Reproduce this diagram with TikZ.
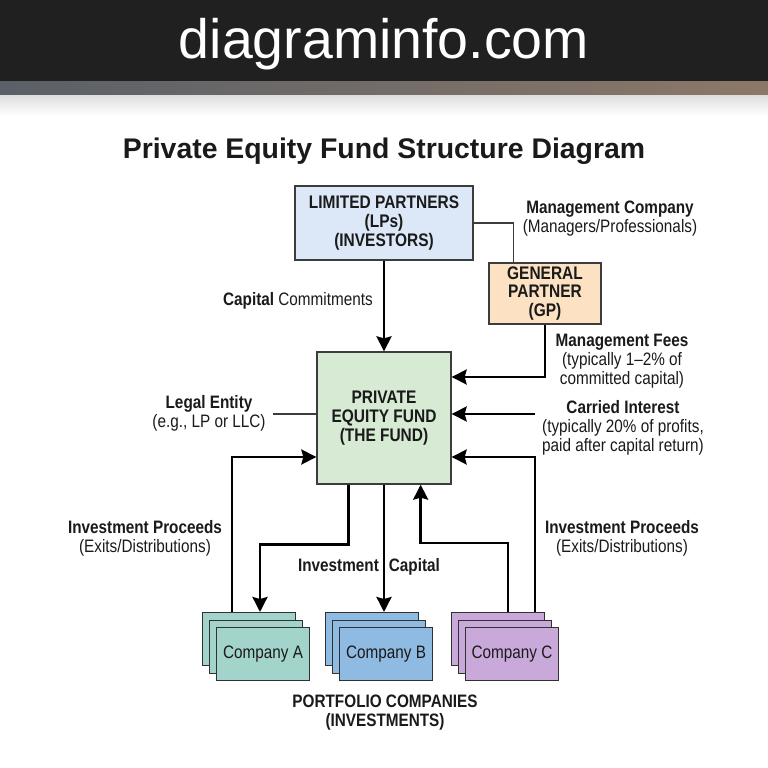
\documentclass[tikz,border=0pt]{standalone}
\usepackage{fontspec}
\setmainfont{Liberation Sans}
\newfontfamily\bodyfont[FakeStretch=0.85]{Liberation Sans}
\usetikzlibrary{arrows.meta}
\definecolor{hdrbg}{HTML}{202020}
\definecolor{lpfill}{HTML}{DCE8F7}
\definecolor{gpfill}{HTML}{FCE2C3}
\definecolor{fundfill}{HTML}{D6EAD4}
\definecolor{cafill}{HTML}{A2D4CB}
\definecolor{cbfill}{HTML}{8FBBE2}
\definecolor{ccfill}{HTML}{C9A9D9}
\definecolor{ink}{HTML}{1A1A1A}
\definecolor{stripL}{HTML}{5A6068}
\definecolor{stripM}{HTML}{484848}
\definecolor{stripR}{HTML}{8C7868}
\tikzset{
  box/.style={draw=ink!85, line width=1.3pt, align=center, inner sep=0pt, text=ink,
    font=\bodyfont\bfseries\fontsize{18.2}{18.8}\selectfont},
  cobox/.style={draw=ink!90, line width=1.1pt, minimum width=93pt, minimum height=53pt,
    inner sep=0pt, anchor=north west, text=ink, font=\bodyfont\fontsize{18}{19}\selectfont},
  arr/.style={line width=2.7pt, draw=black, -{Stealth[length=15pt,width=15pt,inset=2pt]}},
  thinline/.style={line width=1.3pt, draw=ink!85},
  lbl/.style={align=center, inner sep=0pt, text=ink, font=\bodyfont\fontsize{18}{19}\selectfont},
}
\begin{document}
\begin{tikzpicture}[x=1pt,y=-1pt]
\useasboundingbox (0,0) rectangle (768,768);
\fill[white] (0,0) rectangle (768,768);
% header
\fill[hdrbg] (0,0) rectangle (768,81);
\shade[left color=stripL, middle color=stripM, right color=stripR] (0,81) rectangle (768,95);
\shade[top color=black!13, bottom color=white] (0,95) rectangle (768,116);
\node[text=white, font=\fontsize{55.5}{60}\selectfont, anchor=base, inner sep=0pt] (hdr) at (384,59) {diagraminfo.com};
\node[text=ink, font=\bfseries\fontsize{28.4}{32}\selectfont, anchor=base, inner sep=0pt] (title) at (384,158) {Private Equity Fund Structure Diagram};

% main boxes
\node[box, fill=lpfill, minimum width=178pt, minimum height=74pt] (lp) at (384,223) {LIMITED PARTNERS\\(LPs)\\(INVESTORS)};
\node[box, fill=gpfill, minimum width=112pt, minimum height=61pt] (gp) at (545,293.5) {GENERAL\\PARTNER\\(GP)};
\node[box, fill=fundfill, minimum width=134pt, minimum height=132pt] (fund) at (384,418) {PRIVATE\\EQUITY FUND\\(THE FUND)};

% portfolio companies
\node[cobox, fill=cafill] (a1) at (202,612) {};
\node[cobox, fill=cafill] (a2) at (209,619.5) {};
\node[cobox, fill=cafill] (a3) at (216,627) {Company A};
\node[cobox, fill=cbfill] (b1) at (325,612) {};
\node[cobox, fill=cbfill] (b2) at (332,619.5) {};
\node[cobox, fill=cbfill] (b3) at (339,627) {Company B};
\node[cobox, fill=ccfill] (c1) at (451,612) {};
\node[cobox, fill=ccfill] (c2) at (458,619.5) {};
\node[cobox, fill=ccfill] (c3) at (465,627) {Company C};

% free-end coordinates
\coordinate (cistart) at (535,414);
\coordinate (lestart) at (273,414);

% connectors
\draw[thinline] (lp.east) -| ([xshift=25pt]gp.north west);
\draw[arr] (lp.south) -- (fund.north);
\draw[arr] (gp.south) |- ([yshift=41pt]fund.east);
\draw[arr] (cistart) -- (cistart -| fund.east);
\draw[thinline] (lestart) -- (lestart -| fund.west);
\draw[arr] ([xshift=30pt]a1.north west) |- ([yshift=-39pt]fund.west);
\draw[arr] ([xshift=32pt]fund.south west) -- ++(0,60) -| ([xshift=58pt]a1.north west);
\draw[arr] (fund.south) -- (fund.south |- b1.north);
\draw[arr] ([xshift=57pt]c1.north west) -- ++(0,-69) -| ([xshift=-31pt]fund.south east);
\draw[arr] ([xshift=84pt]c1.north west) |- ([yshift=-39pt]fund.east);

% labels
\node[lbl, anchor=base east] (cc) at (373,305) {\textbf{Capital} Commitments};
\node[lbl] (mc) at (610,219) {\textbf{Management Company}\\(Managers/Professionals)};
\node[lbl] (mf) at (622,361.5) {\textbf{Management Fees}\\(typically 1–2\% of\\committed capital)};
\node[lbl] (ci) at (623,427.5) {\textbf{Carried Interest}\\(typically 20\% of profits,\\paid after capital return)};
\node[lbl] (le) at (209,413) {\textbf{Legal Entity}\\(e.g., LP or LLC)};
\node[lbl] (ipl) at (145,538) {\textbf{Investment Proceeds}\\(Exits/Distributions)};
\node[lbl] (ipr) at (622,538) {\textbf{Investment Proceeds}\\(Exits/Distributions)};
\node[lbl, anchor=base] (ic) at (369,571) {\textbf{Investment\hspace{10pt}Capital}};
\node[lbl, font=\bodyfont\bfseries\fontsize{18}{19}\selectfont] (pc) at (385,713) {PORTFOLIO COMPANIES\\(INVESTMENTS)};
\end{tikzpicture}
\end{document}
